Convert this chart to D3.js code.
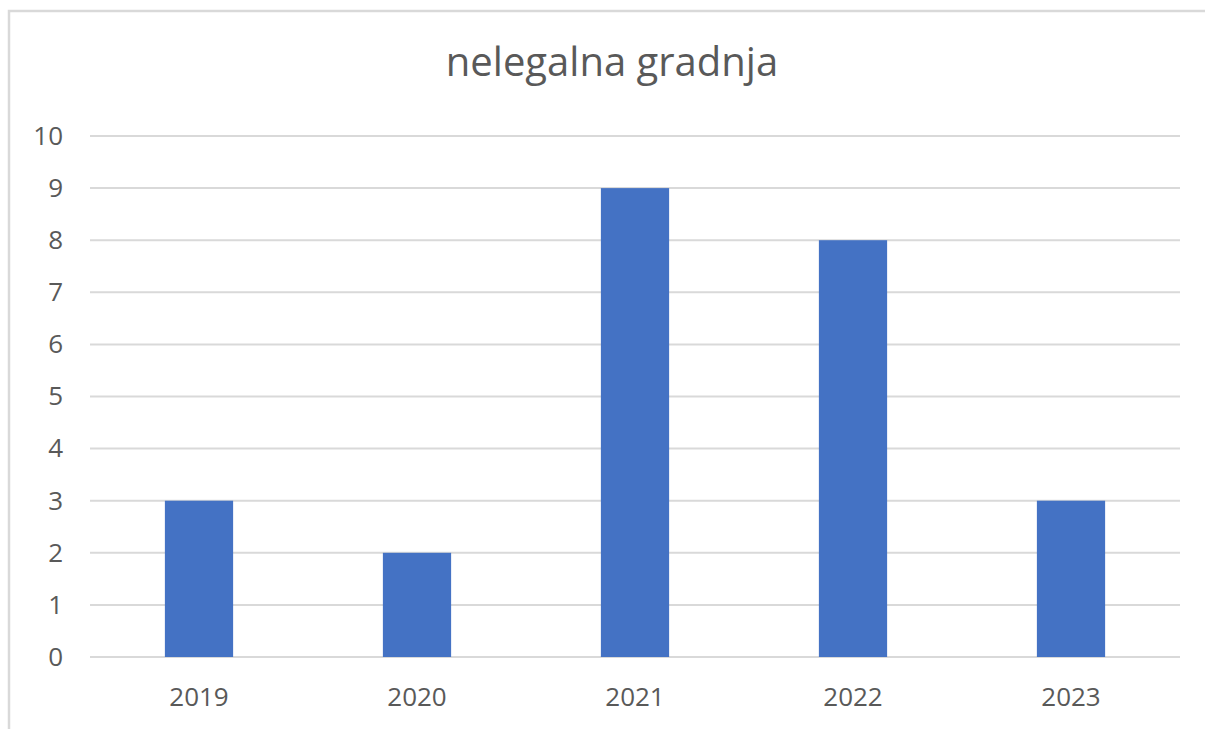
<!DOCTYPE html>
<html>
<head>
<meta charset="utf-8">
<script src="https://cdn.jsdelivr.net/npm/d3@7"></script>
<style>
  body { margin: 0; background: #fff; }
  text { font-family: "Open Sans", "Noto Sans", sans-serif; fill: #595959; }
</style>
</head>
<body>
<div id="vis"></div>
<script>
var width = 1205;
var height = 729;

var title = 'nelegalna gradnja';
var years = ['2019', '2020', '2021', '2022', '2023'];
var counts = [3, 2, 9, 8, 3];
var y_ticks = [0, 1, 2, 3, 4, 5, 6, 7, 8, 9, 10];

var margin = {
    top: 136,
    bottom: 72,
    left: 90,
    right: 25
};

var svg = d3.select('#vis')
    .append('svg')
    .attr('width', width)
    .attr('height', height);

// chart frame (only left and top edges are visible in the crop)
svg.append('rect')
    .attr('x', 9)
    .attr('y', 11)
    .attr('width', width + 20)
    .attr('height', height + 20)
    .attr('fill', 'none')
    .attr('stroke', '#d9d9d9')
    .attr('stroke-width', 2.5);

var x_scale = d3.scaleBand()
    .domain(years)
    .range([margin.left, width - margin.right])
    .paddingInner(0.687)
    .paddingOuter(0.3435);

var y_scale = d3.scaleLinear()
    .domain([0, 10])
    .range([height - margin.bottom, margin.top]);

// gridlines
svg.append('g')
    .selectAll('line')
    .data(y_ticks)
    .enter()
    .append('line')
    .attr('x1', margin.left)
    .attr('x2', width - margin.right)
    .attr('y1', function(d) { return y_scale(d); })
    .attr('y2', function(d) { return y_scale(d); })
    .attr('stroke', '#d9d9d9')
    .attr('stroke-width', 2);

// bars
svg.append('g')
    .selectAll('rect')
    .data(counts)
    .enter()
    .append('rect')
    .attr('x', function(d, i) { return x_scale(years[i]); })
    .attr('y', function(d) { return y_scale(d); })
    .attr('width', x_scale.bandwidth())
    .attr('height', function(d) { return y_scale(0) - y_scale(d); })
    .attr('fill', '#4472c4');

// y axis
var y_axis = d3.axisLeft(y_scale)
    .tickValues(y_ticks)
    .tickSize(0)
    .tickPadding(0);

var gy = svg.append('g')
    .attr('transform', 'translate(63,0)')
    .call(y_axis);
gy.select('.domain').remove();
gy.selectAll('text')
    .attr('font-size', 26)
    .attr('font-family', null)
    .attr('fill', '#595959');

// x axis
var x_axis = d3.axisBottom(x_scale)
    .tickSize(0)
    .tickPadding(0);

var gx = svg.append('g')
    .attr('transform', 'translate(0,' + (height - margin.bottom + 31) + ')')
    .call(x_axis);
gx.select('.domain').remove();
gx.selectAll('text')
    .attr('font-size', 26)
    .attr('font-family', null)
    .attr('fill', '#595959');

svg.append('text')
    .attr('x', 612)
    .attr('y', 76)
    .attr('text-anchor', 'middle')
    .attr('font-size', 40)
    .text(title);
</script>
</body>
</html>
